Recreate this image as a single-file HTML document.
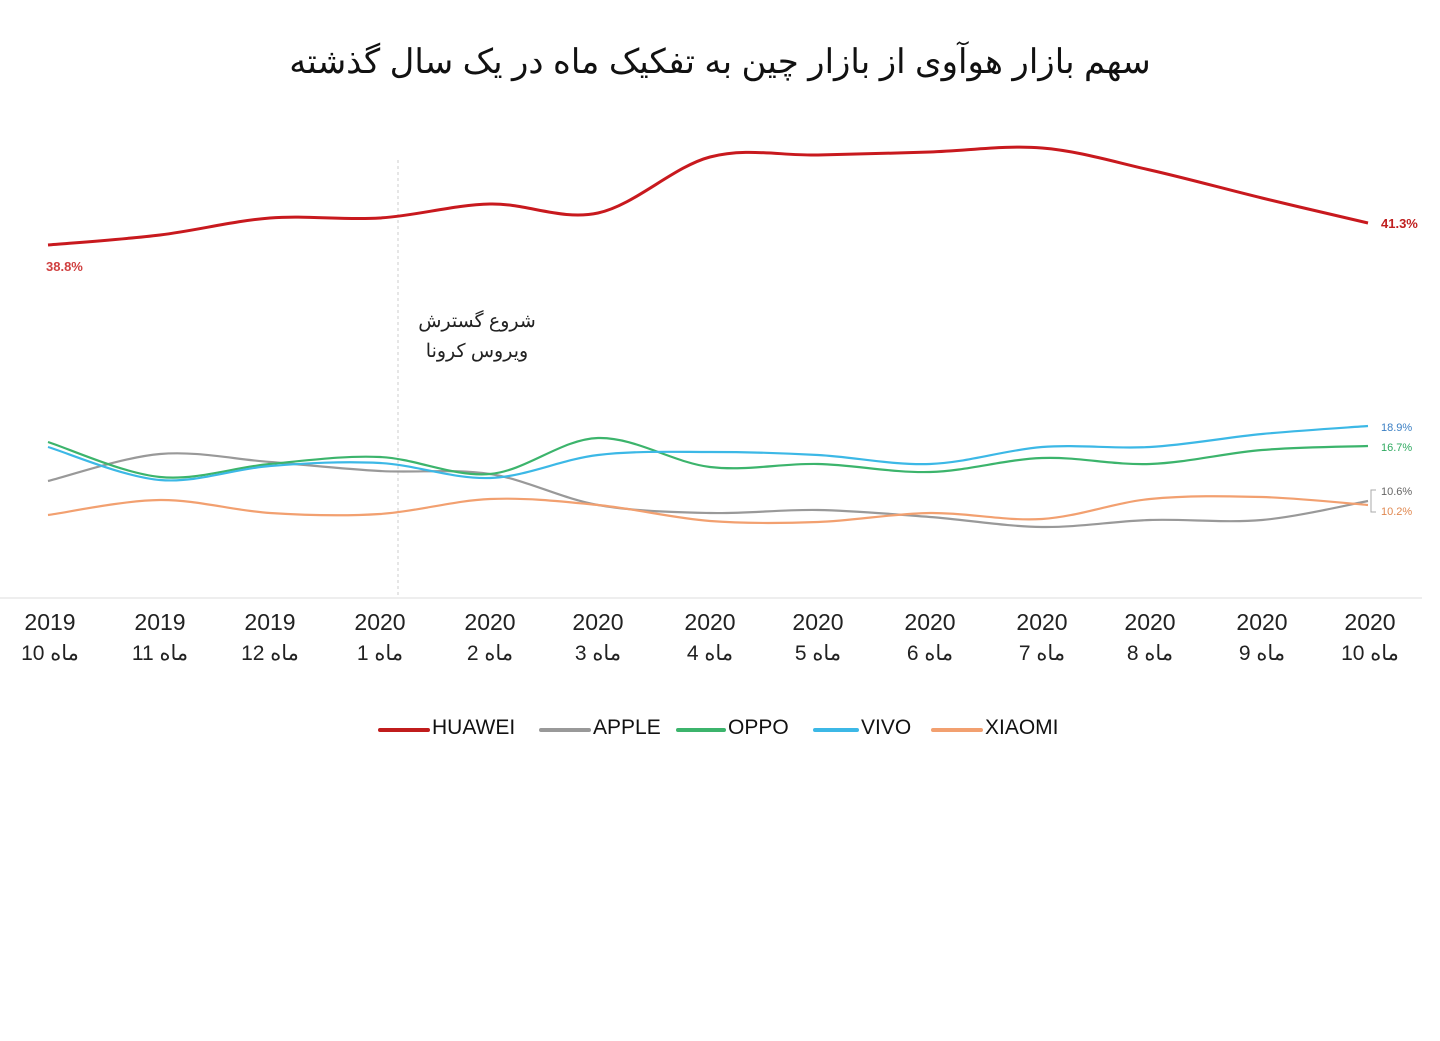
<!DOCTYPE html>
<html><head><meta charset="utf-8"><style>
body{margin:0;background:#fff;width:1440px;height:1036px;overflow:hidden}
text{font-family:"Liberation Sans","Noto Sans CJK SC",sans-serif}
</style></head><body>
<svg id="s" width="1440" height="1036" xmlns="http://www.w3.org/2000/svg">
<text x="720" y="73" text-anchor="middle" font-size="34" font-family="DejaVu Sans, sans-serif" fill="#111">سهم بازار هوآوی از بازار چین به تفکیک ماه در یک سال گذشته</text>
<line x1="398" y1="160" x2="398" y2="598" stroke="#ccc" stroke-dasharray="3,3"/>
<line x1="0" y1="598" x2="1422" y2="598" stroke="#ddd"/>
<text x="477" y="327" text-anchor="middle" font-size="19" font-family="DejaVu Sans, sans-serif" fill="#222">شروع گسترش</text>
<text x="477" y="357" text-anchor="middle" font-size="19" font-family="DejaVu Sans, sans-serif" fill="#222">ویروس کرونا</text>
<g id="lines"></g>
<text x="46" y="271" font-size="13" font-weight="bold" fill="#d04040">38.8%</text>
<text x="1381" y="228" font-size="13" font-weight="bold" fill="#c02020">41.3%</text>
<text x="1381" y="431" font-size="11" fill="#3b7fc4">18.9%</text>
<text x="1381" y="451" font-size="11" fill="#2faa60">16.7%</text>
<text x="1381" y="495" font-size="11" fill="#666">10.6%</text>
<text x="1381" y="515" font-size="11" fill="#e08850">10.2%</text>
<path d="M1376,490 h-5 v22 h5" fill="none" stroke="#aaa"/>
<g id="ax" font-size="23" fill="#222" text-anchor="middle"></g>
<g font-size="21" fill="#111">
<line x1="380" y1="730" x2="428" y2="730" stroke="#c01c1c" stroke-width="4" stroke-linecap="round"/><text x="432" y="734">HUAWEI</text>
<line x1="541" y1="730" x2="589" y2="730" stroke="#999" stroke-width="4" stroke-linecap="round"/><text x="593" y="734">APPLE</text>
<line x1="678" y1="730" x2="724" y2="730" stroke="#3cb46c" stroke-width="4" stroke-linecap="round"/><text x="728" y="734">OPPO</text>
<line x1="815" y1="730" x2="857" y2="730" stroke="#3cb8e6" stroke-width="4" stroke-linecap="round"/><text x="861" y="734">VIVO</text>
<line x1="933" y1="730" x2="981" y2="730" stroke="#f2a070" stroke-width="4" stroke-linecap="round"/><text x="985" y="734">XIAOMI</text>
</g>
</svg>
<script>
const X=[48,160,270,380,490,598,710,818,930,1042,1150,1262,1368];
const S=[
["#999",[481,454,462,471,474,505,513,510,517,527,520,520,501]],
["#f2a070",[515,500,513,514,499,505,521,522,513,519,499,497,505]],
["#3cb46c",[442,477,464,457,474,438,467,464,472,458,464,450,446]],
["#3cb8e6",[447,480,466,463,478,455,452,455,464,447,447,434,426]],
["#c8191e",[245,235,218,218,204,213,157,155,152,148,170,198,223]]];
let h="";
for(const [c,Y] of S){
 const p=X.map((x,i)=>[x,Y[i]]);let d=`M${p[0][0]},${p[0][1]}`;
 for(let i=0;i<p.length-1;i++){
  const a=p[Math.max(0,i-1)],b=p[i],e=p[i+1],f=p[Math.min(p.length-1,i+2)];
  d+=` C${b[0]+(e[0]-a[0])/6},${b[1]+(e[1]-a[1])/6} ${e[0]-(f[0]-b[0])/6},${e[1]-(f[1]-b[1])/6} ${e[0]},${e[1]}`;
 }
 h+=`<path d="${d}" fill="none" stroke="${c}" stroke-width="${c=="#c8191e"?3:2.2}"/>`;
}
document.getElementById("lines").innerHTML=h;
const L=[50,160,270,380,490,598,710,818,930,1042,1150,1262,1370];
const yr=["2019","2019","2019","2020","2020","2020","2020","2020","2020","2020","2020","2020","2020"];
const mo=[10,11,12,1,2,3,4,5,6,7,8,9,10];
let t="";
L.forEach((x,i)=>{t+=`<text x="${x}" y="630">${yr[i]}</text><text x="${x}" y="660" font-family="DejaVu Sans, sans-serif" font-size="21">${mo[i]} ماه</text>`;});
document.getElementById("ax").innerHTML=t;
</script>
</body></html>
